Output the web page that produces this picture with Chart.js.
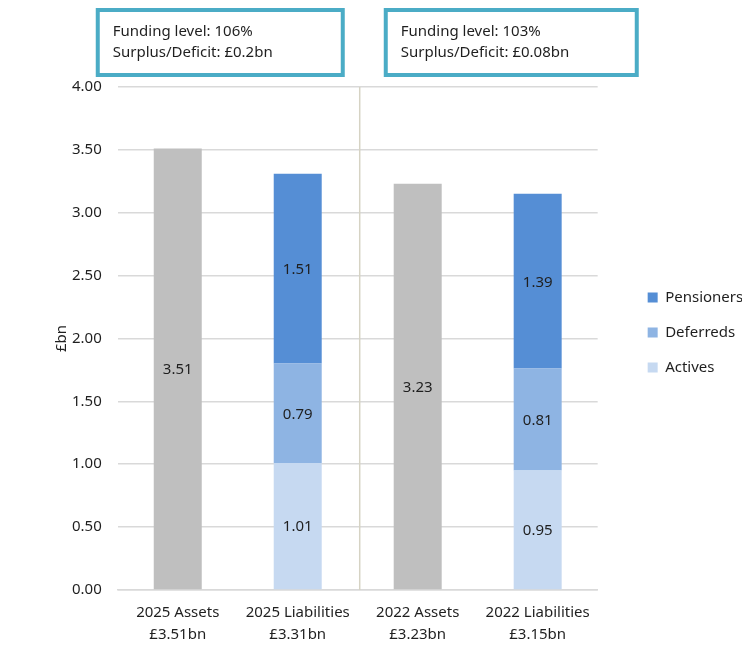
<!DOCTYPE html>
<html>
<head>
<meta charset="utf-8">
<script src="https://cdn.jsdelivr.net/npm/chart.js@4.4.1/dist/chart.umd.min.js"></script>
<style>
  html, body { margin: 0; padding: 0; background: #fff; }
  #wrap { width: 754px; height: 661px; position: relative; }
</style>
</head>
<body>
<div id="wrap"><canvas id="chart"></canvas></div>
<script>
'use strict';

// chart data
const categories = [
  ['2025 Assets', '£3.51bn'],
  ['2025 Liabilities', '£3.31bn'],
  ['2022 Assets', '£3.23bn'],
  ['2022 Liabilities', '£3.15bn']
];
const assets = [3.51, null, 3.23, null];
const actives = [null, 1.01, null, 0.95];
const deferreds = [null, 0.79, null, 0.81];
const pensioners = [null, 1.51, null, 1.39];
const yMin = 0;
const yMax = 4;
const yStep = 0.5;
const yTitle = '£bn';
const boxTexts = [
  ['Funding level: 106%', 'Surplus/Deficit: £0.2bn'],
  ['Funding level: 103%', 'Surplus/Deficit: £0.08bn']
];

const FONT = '"Segoe UI", "Noto Sans", "Open Sans", sans-serif';
const TEXT = '#1f1f1f';

Chart.defaults.font.family = FONT;
Chart.defaults.font.size = 15;
Chart.defaults.color = TEXT;

// values in the middle of each bar segment
const valueLabels = {
  id: 'valueLabels',
  afterDatasetsDraw(chart) {
    const ctx = chart.ctx;
    ctx.save();
    ctx.font = '15px ' + FONT;
    ctx.fillStyle = TEXT;
    ctx.textAlign = 'center';
    ctx.textBaseline = 'middle';
    chart.data.datasets.forEach((ds, i) => {
      chart.getDatasetMeta(i).data.forEach((bar, j) => {
        const v = ds.data[j];
        if (v == null) return;
        const p = bar.getProps(['x', 'y', 'base'], true);
        ctx.fillText(v.toFixed(2), p.x, (p.y + p.base) / 2 + 1);
      });
    });
    ctx.restore();
  }
};

// divider between the two years, axis title and the funding boxes
const extras = {
  id: 'extras',
  beforeDatasetsDraw(chart) {
    const ctx = chart.ctx;
    const x = chart.scales.x;
    const area = chart.chartArea;
    const mid = (x.getPixelForValue(1) + x.getPixelForValue(2)) / 2 + 2;
    ctx.save();
    ctx.strokeStyle = '#d6d3c4';
    ctx.lineWidth = 1.5;
    ctx.beginPath();
    ctx.moveTo(mid, area.top);
    ctx.lineTo(mid, area.bottom);
    ctx.stroke();
    ctx.restore();
  },
  afterDraw(chart) {
    const ctx = chart.ctx;
    const area = chart.chartArea;
    ctx.save();

    // y axis title
    ctx.translate(area.left - 56, (area.top + area.bottom) / 2);
    ctx.rotate(-Math.PI / 2);
    ctx.font = '15px ' + FONT;
    ctx.fillStyle = TEXT;
    ctx.textAlign = 'center';
    ctx.textBaseline = 'middle';
    ctx.fillText(yTitle, 0, 0);
    ctx.restore();
    ctx.save();

    const boxes = [
      { left: area.left - 20, width: 245 },
      { left: area.left + 268, width: 251 }
    ];
    boxes.forEach((b, i) => {
      const top = 10;
      const h = 65;
      ctx.fillStyle = '#fff';
      ctx.fillRect(b.left, top, b.width, h);
      ctx.strokeStyle = '#4bacc6';
      ctx.lineWidth = 4;
      ctx.strokeRect(b.left, top, b.width, h);
      ctx.fillStyle = TEXT;
      ctx.font = '15px ' + FONT;
      ctx.textAlign = 'left';
      ctx.textBaseline = 'middle';
      ctx.fillText(boxTexts[i][0], b.left + 15, top + 22);
      ctx.fillText(boxTexts[i][1], b.left + 15, top + 43);
    });
    ctx.restore();
  }
};

const data = {
  labels: categories,
  datasets: [
    { label: 'Assets', data: assets, backgroundColor: '#bfbfbf' },
    { label: 'Actives', data: actives, backgroundColor: '#c6d9f1' },
    { label: 'Deferreds', data: deferreds, backgroundColor: '#8eb4e3' },
    { label: 'Pensioners', data: pensioners, backgroundColor: '#558ed5' }
  ]
};

const config = {
  type: 'bar',
  data: data,
  options: {
    responsive: true,
    maintainAspectRatio: false,
    animation: false,
    categoryPercentage: 0.8,
    barPercentage: 0.5,
    layout: { padding: { top: 87, left: 56, right: 12, bottom: 11 } },
    plugins: {
      tooltip: { enabled: false },
      legend: {
        position: 'right',
        align: 'start',
        reverse: true,
        title: { display: true, text: ' ', padding: { top: 165, bottom: 0 } },
        labels: {
          boxWidth: 10,
          boxHeight: 10,
          padding: 20,
          color: TEXT,
          font: { size: 15 },
          filter: item => item.text !== 'Assets'
        }
      }
    },
    scales: {
      x: {
        stacked: true,
        grid: { display: false },
        border: { color: '#d9d9d9', width: 1.5 },
        ticks: { color: TEXT, padding: 4, font: { size: 15, lineHeight: 1.47 }, maxRotation: 0 }
      },
      y: {
        stacked: true,
        min: yMin,
        max: yMax,
        ticks: {
          stepSize: yStep,
          padding: 16,
          color: TEXT,
          font: { size: 15 },
          callback: v => v.toFixed(2)
        },
        grid: { color: '#d9d9d9', lineWidth: 1.5, drawTicks: false },
        border: { display: false }
      },
      gap: {
        position: 'right',
        grid: { display: false },
        border: { display: false },
        ticks: { display: false },
        afterFit: s => { s.width = 30; }
      }
    }
  },
  plugins: [valueLabels, extras]
};

new Chart(document.getElementById('chart'), config);
</script>
</body>
</html>
